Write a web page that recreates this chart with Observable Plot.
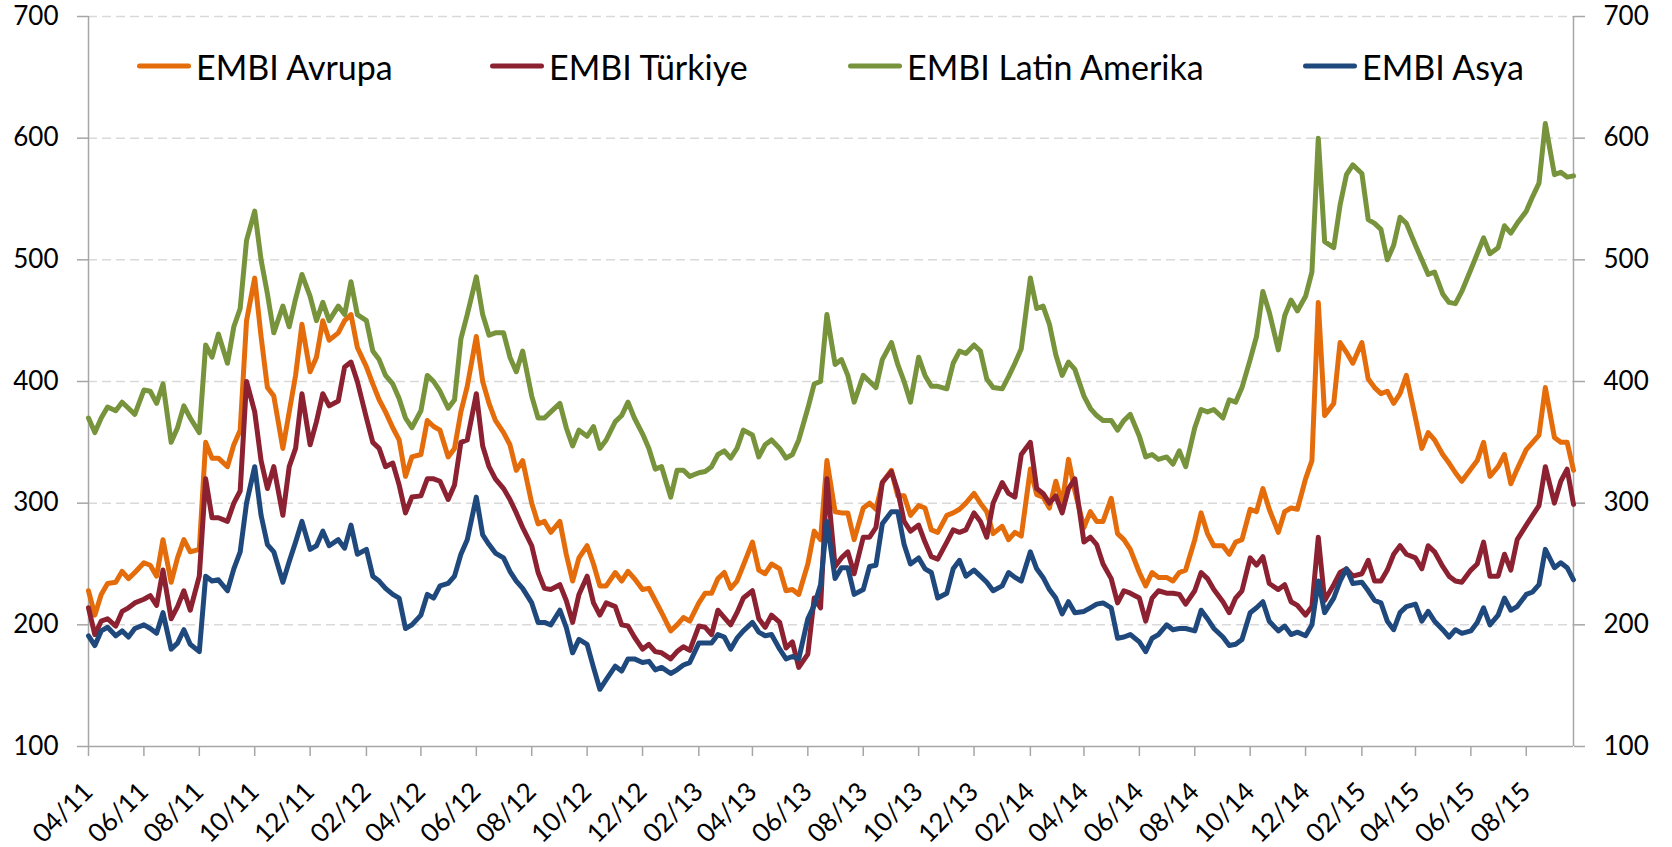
<!DOCTYPE html>
<html>
<head>
<meta charset="utf-8">
<script src="https://cdn.jsdelivr.net/npm/d3@7"></script>
<script src="https://cdn.jsdelivr.net/npm/@observablehq/plot@0.6"></script>
<style>
  html, body { margin: 0; padding: 0; background: #fff; }
  #wrap { position: relative; width: 1672px; height: 847px; font-family: Lato, "Open Sans", sans-serif; }
  .leg { position: absolute; top: 66px; transform: translateY(-50%); display: flex; align-items: center; font-size: 34px; color: #000; white-space: nowrap; }
  .sw { display: inline-block; width: 54px; height: 5px; border-radius: 3px; margin-right: 5px; }
</style>
</head>
<body>
<div id="wrap"></div>
<script>
// ---- data ----
const months = [
  "2011-04","2011-05","2011-06","2011-07","2011-08","2011-09","2011-10","2011-11","2011-12",
  "2012-01","2012-02","2012-03","2012-04","2012-05","2012-06","2012-07","2012-08","2012-09","2012-10","2012-11","2012-12",
  "2013-01","2013-02","2013-03","2013-04","2013-05","2013-06","2013-07","2013-08","2013-09","2013-10","2013-11","2013-12",
  "2014-01","2014-02","2014-03","2014-04","2014-05","2014-06","2014-07","2014-08","2014-09","2014-10","2014-11","2014-12",
  "2015-01","2015-02","2015-03","2015-04","2015-05","2015-06","2015-07","2015-08","2015-09"
];
const days = ["01", "08", "15", "22"];

const seriesNames = ["EMBI Avrupa", "EMBI Türkiye", "EMBI Latin Amerika", "EMBI Asya"];
const seriesColors = ["#E46C0A", "#8C2131", "#77933C", "#1F497D"];

const avrupa = [
  228,208,225,234, 235,244,238,243, 251,249,240,270, 235,255,270,260, 262,350,337,337, 330,348,360,450, 485,437,395,388, 345,375,405,447, 408,420,450,434,
  440,450,455,428, 412,398,385,375, 362,352,322,338, 340,368,363,360, 338,345,375,396, 437,400,382,368, 358,348,327,335, 300,283,285,276, 285,258,236,255, 265,250,232,232, 243,236,244,238, 229,230,220,210,
  195,200,206,203, 218,226,226,238, 243,230,236,249, 268,245,242,250, 246,228,229,225, 250,277,270,335, 293,292,292,270, 296,300,295,317, 327,306,306,290, 298,296,278,276, 290,292,295,300, 308,300,293,275,
  281,270,276,273, 328,307,305,296, 318,300,336,310, 280,293,285,285, 304,275,270,262, 243,232,243,239, 239,236,243,245, 270,292,275,265, 265,258,268,270, 295,293,312,295, 276,293,296,295, 320,335,465,372,
  382,432,424,415, 432,402,395,390, 392,382,390,405, 370,345,358,352, 340,333,325,318, 328,335,350,322, 330,340,316,328, 344,350,356,395, 354,350,350,327
];
const turkiye = [
  214,192,203,205, 199,211,214,218, 221,224,216,245, 205,215,228,212, 240,320,288,288, 285,300,310,400, 375,335,312,330, 290,330,345,390, 348,367,390,380,
  384,412,416,400, 370,350,345,330, 333,315,292,305, 306,320,320,318, 303,315,350,352, 390,347,330,320, 312,303,292,280, 265,243,230,229, 233,220,202,225, 240,218,208,218, 215,200,199,190, 180,184,178,177,
  172,178,182,179, 199,198,192,212, 206,200,210,222, 228,205,198,208, 202,181,186,165, 176,222,214,320, 248,255,260,242, 272,272,280,317, 326,310,285,277, 282,268,256,254, 268,278,276,278, 292,285,272,300,
  317,308,305,340, 350,312,308,300, 306,292,312,320, 268,272,266,250, 238,218,228,226, 222,203,222,228, 226,226,225,217, 228,243,238,229, 219,210,222,228, 255,249,256,234, 229,233,219,216, 208,215,272,220,
  233,243,246,240, 242,253,236,236, 245,258,265,258, 255,246,265,260, 248,240,236,235, 245,250,268,240, 240,258,245,270, 282,290,298,330, 300,318,328,299
];
const latinAmerika = [
  370,358,370,379, 376,383,378,373, 393,392,382,398, 350,362,380,370, 358,430,420,439, 415,445,460,516, 540,500,472,440, 462,445,468,488, 470,450,465,450,
  462,455,482,455, 450,425,418,405, 398,386,370,362, 376,405,400,392, 378,385,435,455, 486,455,438,440, 440,420,408,425, 388,370,370,375, 382,362,347,360, 355,363,345,352, 367,372,383,370, 357,345,328,330,
  305,327,327,322, 325,326,330,340, 343,337,345,360, 356,338,348,352, 345,337,340,352, 378,398,400,455, 414,418,405,383, 405,400,395,418, 432,414,400,383, 420,405,396,396, 394,415,425,423, 430,425,402,395,
  394,404,415,427, 485,460,462,447, 422,405,416,410, 388,378,372,368, 368,360,368,373, 355,338,340,336, 338,332,343,330, 362,377,375,377, 370,385,383,395, 418,437,474,457, 426,454,467,458, 470,490,600,515,
  510,545,570,578, 571,533,530,525, 500,512,535,530, 512,500,488,490, 472,465,464,474, 492,505,518,505, 510,528,522,530, 540,552,563,612, 570,572,568,569
];
const asya = [
  191,183,195,198, 191,195,190,197, 200,197,193,210, 180,185,196,184, 178,240,236,237, 228,246,260,300, 330,290,266,260, 235,252,268,285, 262,265,277,265,
  270,263,282,258, 262,240,236,230, 225,222,197,200, 208,225,222,232, 234,240,258,270, 305,274,266,259, 255,244,236,230, 218,202,202,200, 212,198,177,188, 184,165,147,155, 166,162,172,172, 169,170,163,165,
  160,163,167,169, 185,185,185,192, 190,180,189,195, 202,194,191,192, 180,172,174,172, 205,216,233,285, 238,247,247,225, 229,248,249,283, 293,293,266,250, 255,246,243,222, 226,246,253,240, 245,240,235,228,
  232,243,239,236, 260,246,239,229, 222,209,219,210, 211,214,217,218, 214,189,190,192, 186,178,189,192, 200,196,197,197, 195,212,205,197, 190,183,184,188, 210,214,219,203, 195,199,192,194, 191,200,236,210,
  222,236,246,234, 235,228,220,218, 203,196,210,215, 217,203,211,203, 196,190,196,193, 195,202,214,200, 208,222,212,215, 225,227,233,262, 247,251,247,237
];

const xTicks = ["2011-04-01","2011-06-01","2011-08-01","2011-10-01","2011-12-01","2012-02-01","2012-04-01","2012-06-01","2012-08-01","2012-10-01","2012-12-01",
  "2013-02-01","2013-04-01","2013-06-01","2013-08-01","2013-10-01","2013-12-01","2014-02-01","2014-04-01","2014-06-01","2014-08-01","2014-10-01","2014-12-01",
  "2015-02-01","2015-04-01","2015-06-01","2015-08-01"];
const yTicks = [100, 200, 300, 400, 500, 600, 700];
const xStart = "2011-04-01";
const xEnd = "2015-09-22";

// ---- build ----
const dates = months.flatMap(m => days.map(d => new Date(m + "-" + d)));
const valuesBySeries = [avrupa, turkiye, latinAmerika, asya];
valuesBySeries.forEach((v, i) => { if (v.length !== dates.length) throw new Error(seriesNames[i] + " length " + v.length + " vs " + dates.length); });
const rows = valuesBySeries.map((vals, i) => vals.map((v, j) => ({date: dates[j], value: v, series: seriesNames[i]})));

const fmt = d3.utcFormat("%m/%y");
const tickDates = xTicks.map(s => new Date(s));
const domainX = [new Date(xStart), new Date(xEnd)];
const axisGrey = "#A6A6A6";

const chart = Plot.plot({
  width: 1672,
  height: 847,
  marginLeft: 88,
  marginRight: 99,
  marginTop: 16,
  marginBottom: 101,
  style: {fontFamily: "Lato, 'Open Sans', sans-serif", fontSize: "26px", color: "#000", background: "#fff", overflow: "visible"},
  x: {type: "utc", domain: domainX},
  y: {domain: [100, 700]},
  marks: [
    Plot.gridY(yTicks.filter(t => t > 100), {stroke: "#D9D9D9", strokeOpacity: 1, strokeWidth: 1.5, strokeDasharray: "9,5"}),
    Plot.ruleY([100], {stroke: axisGrey, strokeWidth: 1.5}),
    Plot.ruleX(domainX, {stroke: axisGrey, strokeWidth: 1.5}),
    Plot.axisY(yTicks, {anchor: "left", tickSize: 11, tickPadding: 19, stroke: axisGrey, strokeWidth: 1.5, label: null, fontSize: 26}),
    Plot.axisY(yTicks, {anchor: "right", tickSize: 11, tickPadding: 19, stroke: axisGrey, strokeWidth: 1.5, label: null, fontSize: 26}),
    Plot.axisX(tickDates, {anchor: "bottom", tickSize: 10, tickFormat: () => "", stroke: axisGrey, strokeWidth: 1.5, label: null}),
    Plot.text(tickDates, {x: d => d, frameAnchor: "bottom", dy: 41, rotate: -45, textAnchor: "end", lineAnchor: "middle", text: d => fmt(d), fontSize: 26, fill: "#000"}),
    ...rows.map((r, i) => Plot.lineY(r, {x: "date", y: "value", stroke: seriesColors[i], strokeWidth: 5, strokeLinejoin: "round", strokeLinecap: "round"}))
  ]
});

const wrap = document.getElementById("wrap");
wrap.appendChild(chart);

// legend (inside plot area, as HTML overlay)
const legendLeft = [137, 490, 848, 1303];
seriesNames.forEach((name, i) => {
  const item = document.createElement("div");
  item.className = "leg";
  item.style.left = legendLeft[i] + "px";
  const sw = document.createElement("span");
  sw.className = "sw";
  sw.style.background = seriesColors[i];
  const tx = document.createElement("span");
  tx.textContent = name;
  item.appendChild(sw);
  item.appendChild(tx);
  wrap.appendChild(item);
});
</script>
</body>
</html>
